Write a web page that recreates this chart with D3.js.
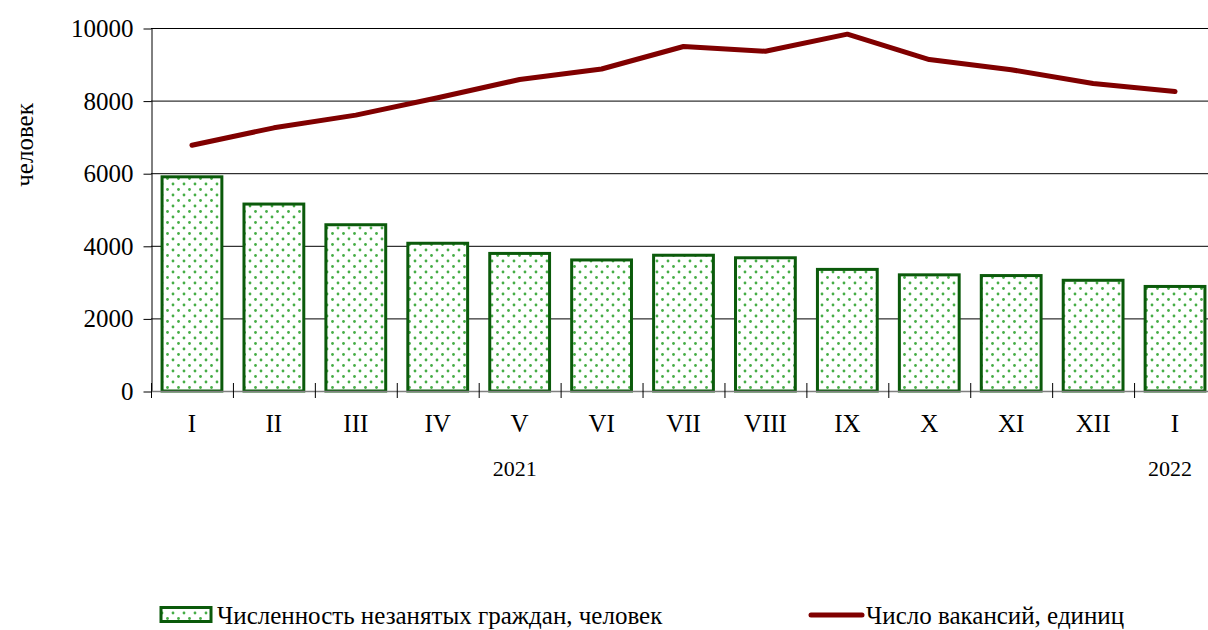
<!DOCTYPE html>
<html>
<head>
<meta charset="utf-8">
<script src="https://cdn.jsdelivr.net/npm/d3@7"></script>
<style>
  body { margin: 0; background: #fff; }
  svg text { font-family: "Liberation Serif", "Times New Roman", "DejaVu Serif", serif; fill: #000; }
</style>
</head>
<body>
<svg id="chart" width="1208" height="630"></svg>
<script>
// Data
const months = ["I", "II", "III", "IV", "V", "VI", "VII", "VIII", "IX", "X", "XI", "XII", "I"];
const unemployed = [5900, 5150, 4580, 4070, 3790, 3610, 3740, 3670, 3350, 3200, 3180, 3050, 2880];
const vacancies = [6770, 7250, 7600, 8080, 8580, 8870, 9490, 9360, 9830, 9130, 8850, 8470, 8250];
const yTicks = [0, 2000, 4000, 6000, 8000, 10000];
const years = [{ label: "2021", index: 4 }, { label: "2022", index: 12 }];
const seriesNames = ["Численность незанятых граждан, человек", "Число вакансий, единиц"];

const svg = d3.select("#chart");

// Plot area
const plotLeft = 151, plotRight = 1216, plotTop = 28, plotBottom = 391;

const x = d3.scaleBand()
  .domain(d3.range(months.length))
  .range([plotLeft, plotRight])
  .paddingInner(0.27)
  .paddingOuter(0.135);

const y = d3.scaleLinear().domain([0, 10000]).range([plotBottom, plotTop]);

// Dot pattern for bars
const defs = svg.append("defs");
const pattern = defs.append("pattern")
  .attr("id", "dots")
  .attr("patternUnits", "userSpaceOnUse")
  .attr("width", 11)
  .attr("height", 11);
pattern.append("rect").attr("width", 11).attr("height", 11).attr("fill", "#fff");
pattern.selectAll("circle")
  .data([[2.5, 2.5], [8, 8]])
  .join("circle")
  .attr("cx", d => d[0])
  .attr("cy", d => d[1])
  .attr("r", 1.4)
  .attr("fill", "#46ad46");

// Gridlines
svg.append("g")
  .selectAll("line")
  .data(yTicks.filter(d => d > 0))
  .join("line")
  .attr("x1", plotLeft)
  .attr("x2", plotRight)
  .attr("y1", d => y(d) + 0.5)
  .attr("y2", d => y(d) + 0.5)
  .attr("stroke", "#000")
  .attr("stroke-width", 1);

// Y axis
const yAxis = svg.append("g")
  .attr("transform", `translate(${ plotLeft + 0.5 },0.5)`)
  .call(d3.axisLeft(y).tickValues(yTicks).tickFormat(d3.format("d")).tickSize(8).tickSizeOuter(0).tickPadding(10));
yAxis.attr("font-family", null);
yAxis.select(".domain").attr("stroke", "#000");
yAxis.selectAll("text")
  .attr("font-size", "25px");

// Bars
svg.append("g")
  .selectAll("rect")
  .data(unemployed)
  .join("rect")
  .attr("x", (d, i) => x(i))
  .attr("y", d => y(d))
  .attr("width", x.bandwidth())
  .attr("height", d => plotBottom - y(d))
  .attr("fill", "url(#dots)")
  .attr("stroke", "#0b5a0b")
  .attr("stroke-width", 3);

// X axis line and ticks between categories
const step = x.step();
svg.append("line")
  .attr("x1", plotLeft)
  .attr("x2", plotRight)
  .attr("y1", plotBottom + 0.5)
  .attr("y2", plotBottom + 0.5)
  .attr("stroke", "#808080")
  .attr("stroke-width", 1.5);

svg.append("g")
  .selectAll("line")
  .data(d3.range(months.length + 1))
  .join("line")
  .attr("x1", i => plotLeft + i * step + 0.5)
  .attr("x2", i => plotLeft + i * step + 0.5)
  .attr("y1", plotBottom - 8)
  .attr("y2", plotBottom + 7)
  .attr("stroke", "#000")
  .attr("stroke-width", 1);

// Month labels
svg.append("g")
  .selectAll("text")
  .data(months)
  .join("text")
  .attr("x", (d, i) => x(i) + x.bandwidth() / 2)
  .attr("y", 432)
  .attr("text-anchor", "middle")
  .attr("font-size", "25px")
  .text(d => d);

// Year labels
svg.append("g")
  .selectAll("text")
  .data(years)
  .join("text")
  .attr("x", d => x(d.index) + x.bandwidth() / 2 - 5)
  .attr("y", 476)
  .attr("text-anchor", "middle")
  .attr("font-size", "22px")
  .text(d => d.label);

// Vacancies line
const line = d3.line()
  .x((d, i) => x(i) + x.bandwidth() / 2)
  .y(d => y(d));

svg.append("path")
  .datum(vacancies)
  .attr("d", line)
  .attr("fill", "none")
  .attr("stroke", "#800000")
  .attr("stroke-width", 5)
  .attr("stroke-linejoin", "round")
  .attr("stroke-linecap", "round");

// Y axis title
svg.append("text")
  .attr("transform", "translate(33,145) rotate(-90)")
  .attr("text-anchor", "middle")
  .attr("font-size", "25px")
  .text("человек");

// Legend
const legend = svg.append("g");
legend.append("rect")
  .attr("x", 161)
  .attr("y", 607.5)
  .attr("width", 50)
  .attr("height", 14)
  .attr("fill", "url(#dots)")
  .attr("stroke", "#0b5a0b")
  .attr("stroke-width", 3);
legend.append("text")
  .attr("x", 217)
  .attr("y", 624)
  .attr("font-size", "25px")
  .text(seriesNames[0]);

legend.append("line")
  .attr("x1", 811)
  .attr("x2", 862)
  .attr("y1", 615)
  .attr("y2", 615)
  .attr("stroke", "#800000")
  .attr("stroke-width", 5)
  .attr("stroke-linecap", "round");
legend.append("text")
  .attr("x", 866)
  .attr("y", 624)
  .attr("font-size", "25px")
  .text(seriesNames[1]);
</script>
</body>
</html>
